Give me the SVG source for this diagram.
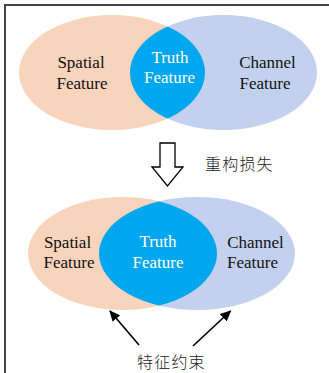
<svg xmlns="http://www.w3.org/2000/svg" width="329" height="373" viewBox="0 0 329 373">
  <defs>
    <style>
      .sp { fill: #F8D4BC; }
      .ch { fill: #C3D1EE; }
      .tr { fill: #00A6EE; }
      .lbl { font-family: "Liberation Serif", "Times New Roman", serif; font-size: 17px; text-anchor: middle; fill: #111; }
      .lbl-w { fill: #ffffff; }
      .cjk { font-family: "Noto Sans CJK SC", "Liberation Sans", sans-serif; font-size: 16px; font-weight: 300; fill: #222; letter-spacing: 1.2px; }
      .link { stroke: #000; stroke-width: 1.6; fill: none; }
    </style>
    <marker id="head" viewBox="0 0 10 10" refX="9" refY="5" markerWidth="11" markerHeight="10" orient="auto" markerUnits="userSpaceOnUse" preserveAspectRatio="none">
      <path d="M0,0 L10,5 L0,10 z" fill="#000"/>
    </marker>
    <clipPath id="clipTopSp"><ellipse cx="112" cy="72.5" rx="93" ry="57.5"/></clipPath>
    <clipPath id="clipBotSp"><ellipse cx="122.5" cy="253.5" rx="94.5" ry="56.5"/></clipPath>
  </defs>

  <rect width="329" height="373" fill="#ffffff"/>
  <!-- frame (open at right and bottom) -->
  <path d="M5,380 L5,5 L335,5" fill="none" stroke="#444" stroke-width="2"/>

  <!-- upper Venn: before reconstruction -->
  <g id="top-spatial">
    <ellipse class="sp" cx="112" cy="72.5" rx="93" ry="57.5"/>
  </g>
  <g id="top-channel">
    <ellipse class="ch" cx="223.5" cy="72.5" rx="93.5" ry="57.5"/>
  </g>
  <g id="top-truth">
    <ellipse class="tr" cx="223.5" cy="72.5" rx="93.5" ry="57.5" clip-path="url(#clipTopSp)"/>
  </g>
  <g id="top-labels">
    <text class="lbl" x="81" y="68">Spatial</text>
    <text class="lbl" x="82" y="89">Feature</text>
    <text class="lbl lbl-w" x="170" y="63">Truth</text>
    <text class="lbl lbl-w" x="169.5" y="83">Feature</text>
    <text class="lbl" x="267.5" y="68">Channel</text>
    <text class="lbl" x="265" y="89">Feature</text>
  </g>

  <!-- hollow down arrow -->
  <g id="step-arrow">
    <path d="M160,143 L175,143 L175,167 L183,167 L167.5,186 L152,167 L160,167 Z" fill="#fff" stroke="#000" stroke-width="1.3" stroke-linejoin="miter"/>
    <text class="cjk" x="205" y="170">重构损失</text>
  </g>

  <!-- lower Venn: after reconstruction -->
  <g id="bot-spatial">
    <ellipse class="sp" cx="122.5" cy="253.5" rx="94.5" ry="56.5"/>
  </g>
  <g id="bot-channel">
    <ellipse class="ch" cx="197" cy="253.5" rx="98" ry="56.5"/>
  </g>
  <g id="bot-truth">
    <ellipse class="tr" cx="197" cy="253.5" rx="98" ry="56.5" clip-path="url(#clipBotSp)"/>
  </g>
  <g id="bot-labels">
    <text class="lbl" x="67.5" y="248">Spatial</text>
    <text class="lbl" x="69" y="268">Feature</text>
    <text class="lbl lbl-w" x="158" y="247">Truth</text>
    <text class="lbl lbl-w" x="158" y="268">Feature</text>
    <text class="lbl" x="255.5" y="248">Channel</text>
    <text class="lbl" x="252.5" y="268">Feature</text>
  </g>

  <!-- constraint arrows -->
  <g id="connectors">
    <line class="link" x1="139" y1="345" x2="110" y2="311" marker-end="url(#head)"/>
    <line class="link" x1="193" y1="346" x2="230.5" y2="311" marker-end="url(#head)"/>
  </g>
  <g id="constraint-label">
    <text class="cjk" x="137" y="368">特征约束</text>
  </g>
</svg>
